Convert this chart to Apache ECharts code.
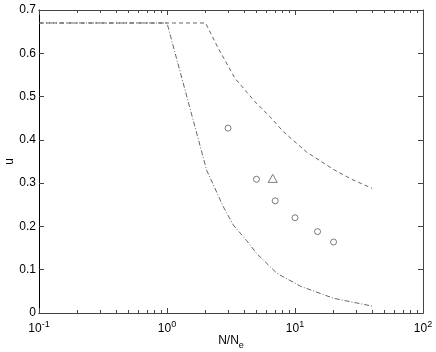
<!DOCTYPE html>
<html>
<head>
<meta charset="utf-8">
<script src="https://cdn.jsdelivr.net/npm/echarts@6/dist/echarts.min.js"></script>
<style>
    html, body{ margin:0; padding:0; background:#fff; }
    #main{ width:436px; height:352px; }
</style>
</head>
<body>
<div id="main"></div>
<script>
    // upper dashed curve
    var dashX = [0.1, 2, 2.52, 3.4, 4.87, 6.4, 8.1, 12.3, 19.9, 27.7, 40];
    var dashU = [0.67, 0.67, 0.611, 0.542, 0.488, 0.453, 0.419, 0.372, 0.332, 0.309, 0.288];
    // lower dash-dot curve
    var dotX = [0.1, 1, 2.04, 2.76, 3.3, 4.2, 5, 7.2, 11, 20, 40];
    var dotU = [0.67, 0.67, 0.33, 0.245, 0.203, 0.167, 0.138, 0.092, 0.062, 0.034, 0.016];
    // measured points
    var circX = [3, 5, 7, 10, 15, 20];
    var circU = [0.427, 0.309, 0.259, 0.22, 0.188, 0.164];
    var triX = [6.7];
    var triU = [0.311];
    // axis ticks
    var decades = [0.1, 1, 10, 100];
    var minorTicks = [];
    for (var d = 0; d < decades.length - 1; d++) {
        for (var k = 2; k <= 9; k++) minorTicks.push(+(decades[d] * k).toPrecision(3));
    }

    function pairs(xs, ys) {
        var out = [];
        for (var i = 0; i < xs.length; i++) out.push([xs[i], ys[i]]);
        return out;
    }

    var axisCol = '#444';
    var font = '"Liberation Sans", Arial, sans-serif';

    function logAxis(pos, len, ticks, labels) {
        return {
            type: 'log', logBase: 10, min: 0.1, max: 100, position: pos,
            axisLine: { show: true, onZero: false, lineStyle: { color: axisCol, width: 1 } },
            axisTick: { show: true, inside: true, length: len, customValues: ticks, lineStyle: { color: axisCol } },
            axisLabel: labels ? {
                show: true, margin: 7, color: '#000', fontFamily: font,
                customValues: ticks,
                formatter: function (v) {
                    var e = Math.round(Math.log10(v));
                    return '{b|10}{s|' + e + '}';
                },
                rich: {
                    b: { fontSize: 12, fontFamily: font, color: '#000' },
                    s: { fontSize: 9, fontFamily: font, color: '#000', padding: [0, 0, 8, 0] }
                }
            } : { show: false },
            splitLine: { show: false },
            minorTick: { show: false }
        };
    }

    var xMain = logAxis('bottom', 5, decades, true);
    xMain.name = '{n|N/N}{e|e}';
    xMain.nameLocation = 'middle';
    xMain.nameGap = 19;
    xMain.nameMoveOverlap = false;
    xMain.nameTextStyle = {
        rich: {
            n: { fontSize: 12, fontFamily: font, color: '#000' },
            e: { fontSize: 9, fontFamily: font, color: '#000', padding: [9, 0, 0, 0] }
        }
    };

    var myChart = echarts.init(document.getElementById('main'), null, { renderer: 'canvas' });
    var option = {
        animation: false,
        backgroundColor: '#fff',
        grid: { left: 39, right: 13, top: 10, bottom: 39, outerBoundsMode: 'none', containLabel: false },
        xAxis: [
            xMain,
            logAxis('bottom', 3, minorTicks, false),
            logAxis('top', 5, decades, false),
            logAxis('top', 3, minorTicks, false)
        ],
        yAxis: [
            {
                type: 'value', min: 0, max: 0.7, interval: 0.1, position: 'left',
                name: 'u', nameLocation: 'middle', nameGap: 23, nameRotate: 90,
                nameMoveOverlap: false,
                nameTextStyle: { fontSize: 12, fontFamily: font, color: '#000' },
                axisLine: { show: true, onZero: false, lineStyle: { color: '#000' } },
                axisTick: { show: true, inside: true, length: 5, lineStyle: { color: axisCol } },
                axisLabel: { margin: 3, fontSize: 12, fontFamily: font, color: '#000' },
                splitLine: { show: false }
            },
            {
                type: 'value', min: 0, max: 0.7, interval: 0.1, position: 'right',
                axisLine: { show: true, onZero: false, lineStyle: { color: axisCol } },
                axisTick: { show: true, inside: true, length: 5, lineStyle: { color: axisCol } },
                axisLabel: { show: false },
                splitLine: { show: false }
            }
        ],
        series: [
            {
                type: 'line', data: pairs(dashX, dashU), showSymbol: false, symbol: 'none',
                lineStyle: { color: '#555', width: 0.9, type: [4, 3] }
            },
            {
                type: 'line', data: pairs(dotX, dotU), showSymbol: false, symbol: 'none',
                lineStyle: { color: '#555', width: 0.9, type: [5, 2, 1, 2] }
            },
            {
                type: 'scatter', data: pairs(circX, circU), symbol: 'circle', symbolSize: 6,
                itemStyle: { color: 'rgba(0,0,0,0)', borderColor: '#333', borderWidth: 0.8 }
            },
            {
                type: 'scatter', data: pairs(triX, triU), symbol: 'triangle', symbolSize: [9, 8],
                itemStyle: { color: 'rgba(0,0,0,0)', borderColor: '#333', borderWidth: 0.8 }
            }
        ]
    };
    myChart.setOption(option);
</script>
</body>
</html>
